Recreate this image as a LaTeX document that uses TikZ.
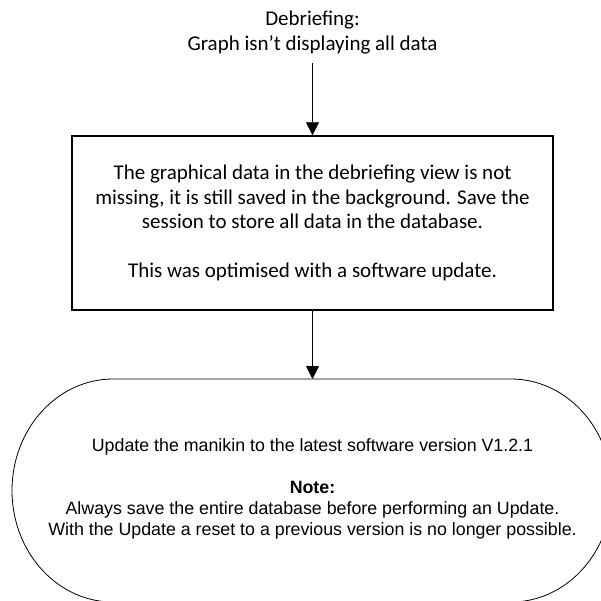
\documentclass[tikz,border=0pt]{standalone}
\usepackage{fontspec}
\setmainfont{Carlito}
\newfontfamily\arialfont{Liberation Sans}
\usetikzlibrary{arrows.meta}
\tikzset{
  conn/.style={-{Triangle[length=13pt,width=13pt]}, line width=0.8pt},
  calib/.style={font=\fontsize{21}{24.5}\selectfont, align=center, inner sep=0pt},
  arialtxt/.style={font=\arialfont\fontsize{17.8}{21}\selectfont, align=center, inner sep=0pt},
  procbox/.style={draw, line width=1.4pt, minimum width=481pt, minimum height=174pt, inner sep=0pt},
  termshape/.style={draw, line width=0.8pt}
}
\begin{document}
\begin{tikzpicture}[x=1pt,y=-1pt]
\useasboundingbox (0,0) rectangle (601,601);
\clip (0,0) rectangle (601,601);

\node[calib] (title) at (312.5,32.6) {Debriefing:\\Graph isn’t displaying all data};

\node[procbox, calib] (box) at (312.5,223) {The graphical data in the debriefing view is not\\missing, it is still saved in the background. Save the\\session to store all data in the database.\\[24.5pt]This was optimised with a software update.};

\path[termshape] (113,379) -- (511,379)
  .. controls (566.8,379) and (612,429) .. (612,490.5)
  .. controls (612,552) and (566.8,602) .. (511,602)
  -- (113,602)
  .. controls (57.2,602) and (12,552) .. (12,490.5)
  .. controls (12,429) and (57.2,379) .. (113,379) -- cycle;
\coordinate (termtop) at (312.5,379);

\node[arialtxt] (termtext) at (312.5,489) {Update the manikin to the latest software version V1.2.1\\[21pt]\textbf{Note:}\\Always save the entire database before performing an Update.\\With the Update a reset to a previous version is no longer possible.};

\draw[conn] ([yshift=-9pt]title.south) -- (box.north);
\draw[conn] (box.south) -- (termtop);
\end{tikzpicture}
\end{document}
